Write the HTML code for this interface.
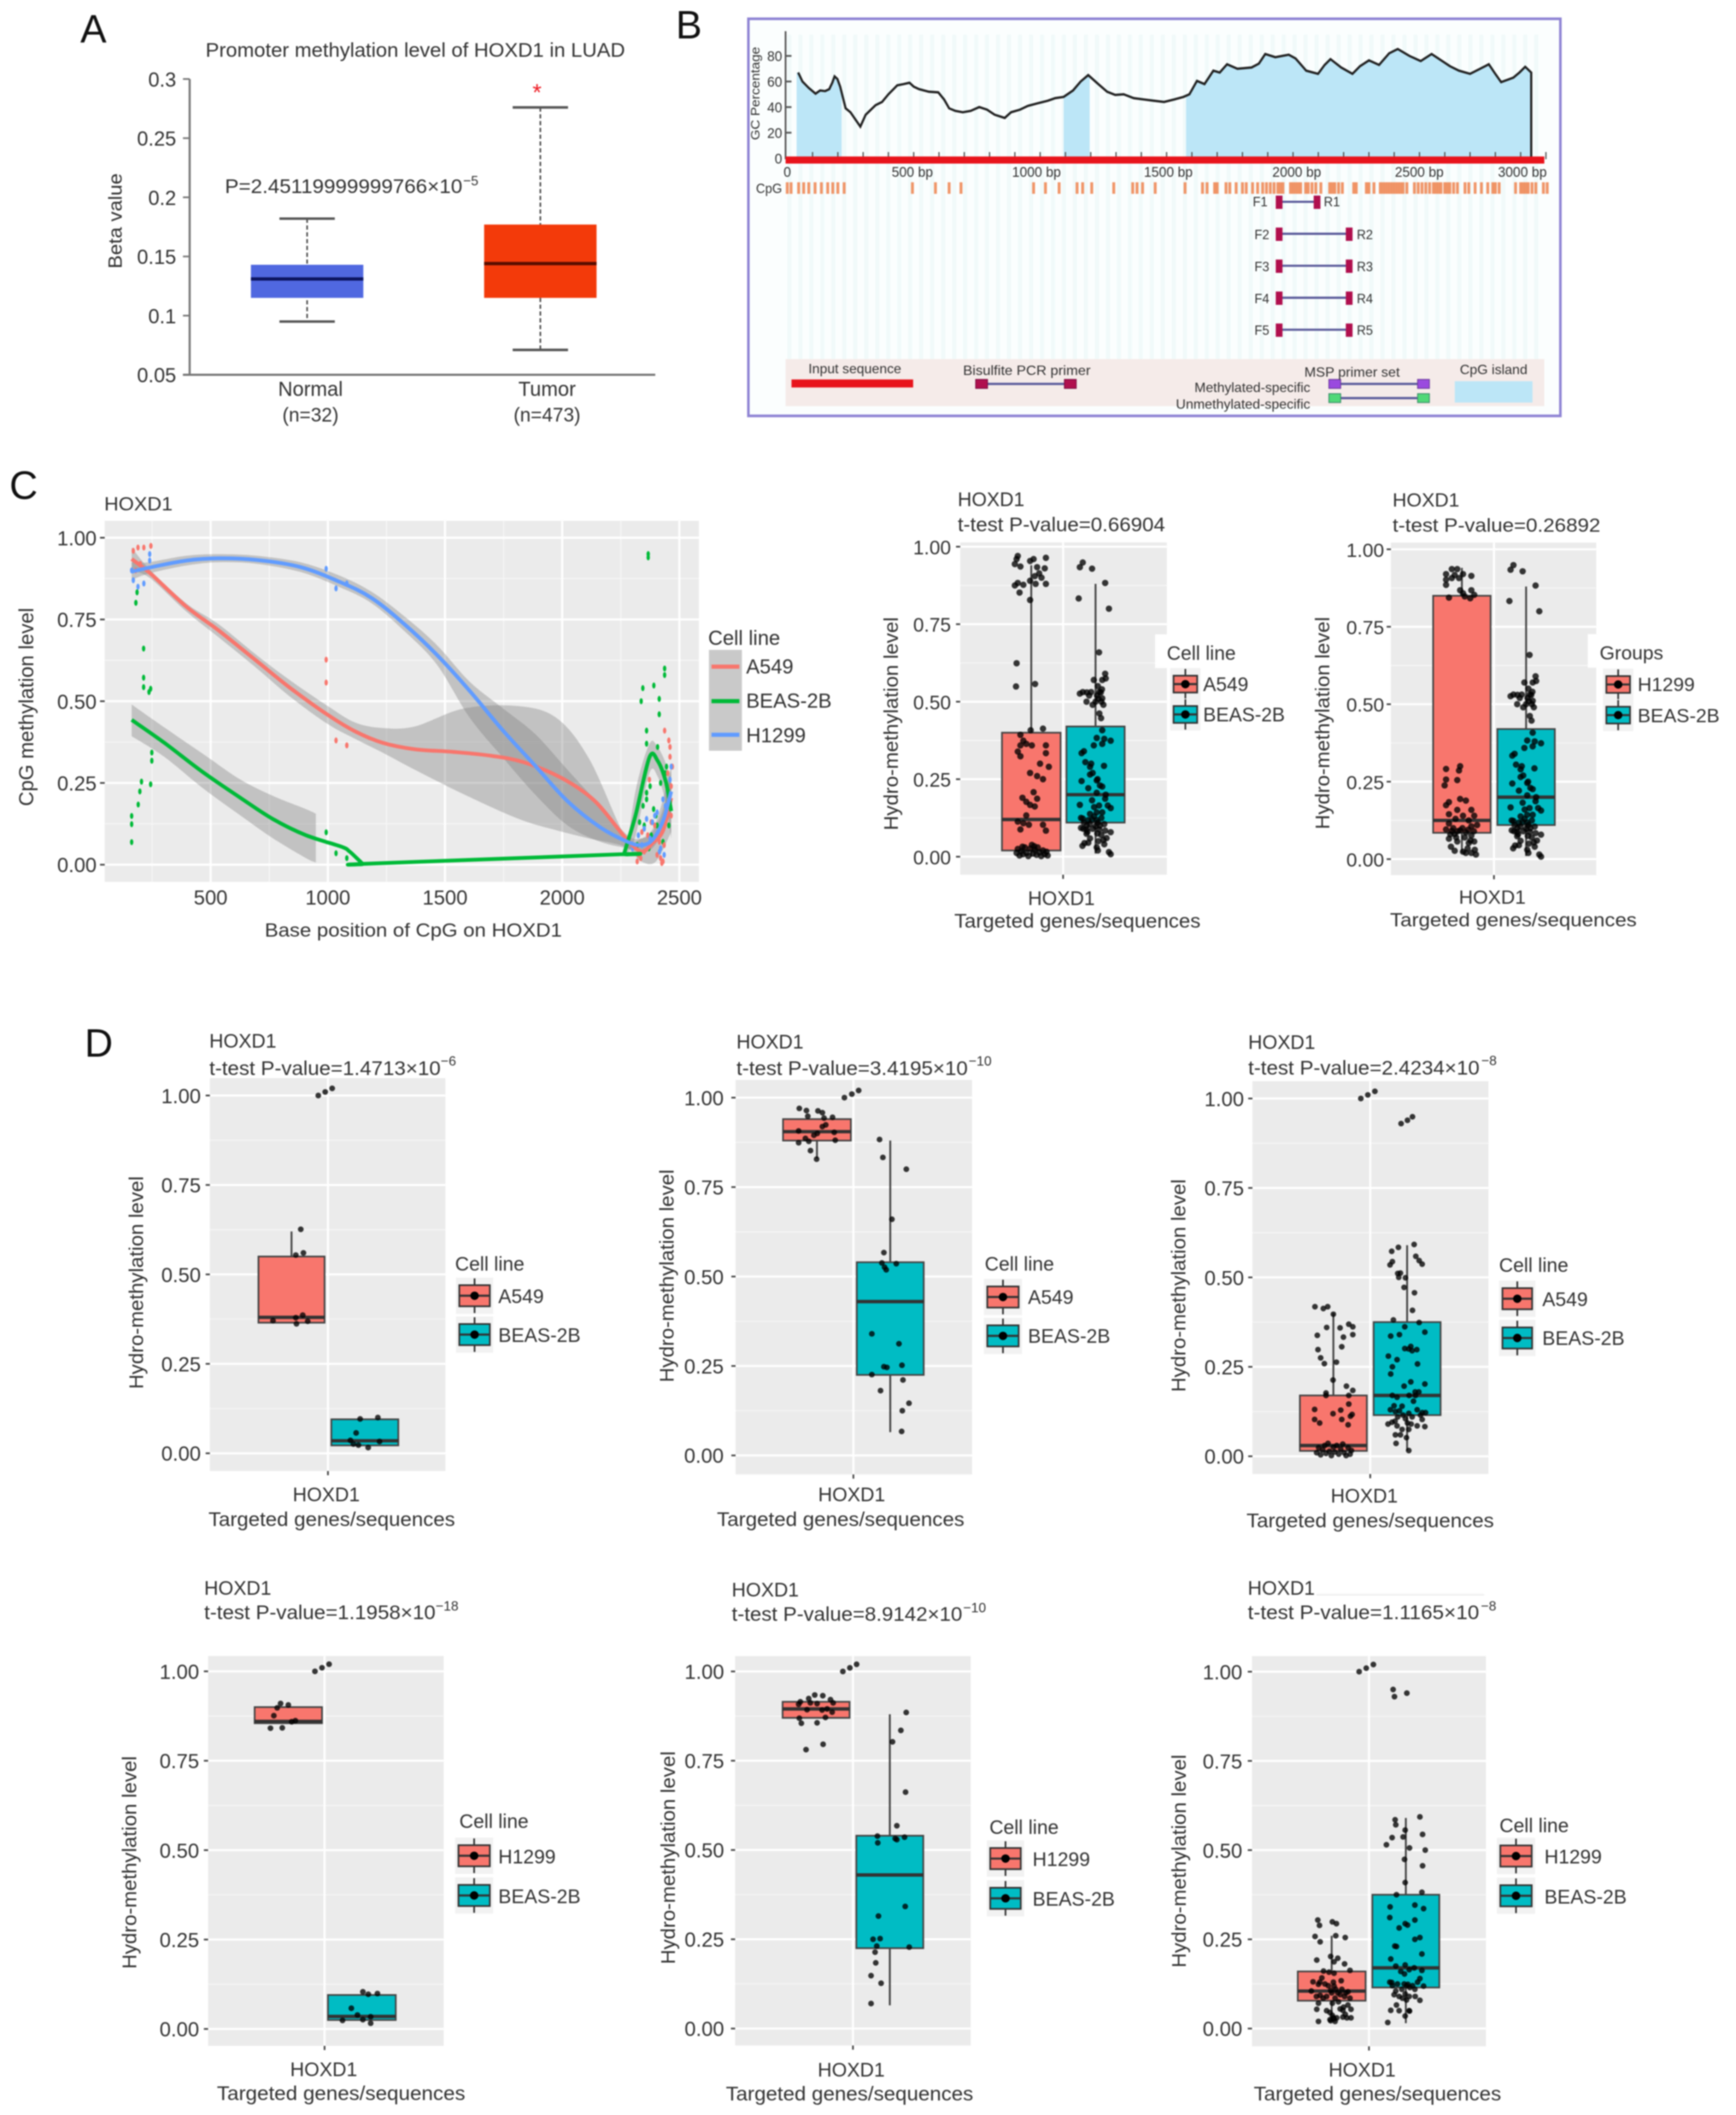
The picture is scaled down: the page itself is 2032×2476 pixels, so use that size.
<!DOCTYPE html>
<html lang="en">
<head>
<meta charset="utf-8">
<title>HOXD1 methylation figure</title>
<style>
html,body{margin:0;padding:0;background:#fff;}
svg{display:block;filter:blur(.9px);}
text{font-family:"Liberation Sans",sans-serif;fill:#333;}
.t23{font-size:23px;}
.t24{font-size:24px;}
.exp{font-size:16px;}
.letter{font-size:46px;fill:#111;}
.b15{font-size:15px;fill:#333;}
.b16{font-size:16px;fill:#333;}
</style>
</head>
<body>
<svg id="figure" xmlns="http://www.w3.org/2000/svg" width="2032" height="2476" viewBox="0 0 2032 2476">
<defs>
<pattern id="stripes" width="13" height="10" patternUnits="userSpaceOnUse"><rect width="13" height="10" fill="#fbfefe"/><rect width="5" height="10" fill="#f1fafa"/></pattern>
</defs>
<rect width="2032" height="2476" fill="#fff"/>

<text class="letter" x="94" y="50">A</text>
<text class="letter" x="791" y="45">B</text>
<text class="letter" x="11" y="584">C</text>
<text class="letter" x="99" y="1237">D</text>

<!-- Panel A -->
<g transform="translate(4,-1.03) scale(.982,.995)">
<text class="t23" x="241" y="68" textLength="500" lengthAdjust="spacingAndGlyphs">Promoter methylation level of HOXD1 in LUAD</text>
<g id="panelA"></g>
<text class="t23" transform="translate(141,261) rotate(-90)" text-anchor="middle" textLength="112" lengthAdjust="spacingAndGlyphs">Beta value</text>
<text class="t23" x="264" y="228" textLength="283" lengthAdjust="spacingAndGlyphs">P=2.45119999999766×10</text>
<text class="exp" x="548" y="219">−5</text>
<text class="t24" x="366" y="467" text-anchor="middle">Normal</text>
<text class="t23" x="366" y="497" text-anchor="middle">(n=32)</text>
<text class="t24" x="648" y="467" text-anchor="middle">Tumor</text>
<text class="t23" x="648" y="497" text-anchor="middle">(n=473)</text>
</g>

<!-- Panel B -->
<g transform="translate(8.65,-.88) scale(.989,1.04)">
<rect x="877" y="22" width="961" height="447" fill="#fbfefe" stroke="#8f84d4" stroke-width="3"/>
<rect x="921" y="40" width="898" height="365" fill="url(#stripes)"/>
<g id="panelB"></g>
<text class="b15" transform="translate(890,106) rotate(-90)" text-anchor="middle" textLength="105" lengthAdjust="spacingAndGlyphs">GC Percentage</text>
<text class="b16" x="923" y="200" text-anchor="middle">0</text>
<text class="b16" x="1071" y="200" text-anchor="middle">500 bp</text>
<text class="b16" x="1218" y="200" text-anchor="middle">1000 bp</text>
<text class="b16" x="1374" y="200" text-anchor="middle">1500 bp</text>
<text class="b16" x="1526" y="200" text-anchor="middle">2000 bp</text>
<text class="b16" x="1671" y="200" text-anchor="middle">2500 bp</text>
<text class="b16" x="1793" y="200" text-anchor="middle">3000 bp</text>
<text class="b15" x="886" y="218">CpG</text>
<text class="b15" x="1474" y="233">F1</text><text class="b15" x="1558" y="233">R1</text>
<text class="b15" x="1476" y="270">F2</text><text class="b15" x="1597" y="270">R2</text>
<text class="b15" x="1476" y="306">F3</text><text class="b15" x="1597" y="306">R3</text>
<text class="b15" x="1476" y="342">F4</text><text class="b15" x="1597" y="342">R4</text>
<text class="b15" x="1476" y="378">F5</text><text class="b15" x="1597" y="378">R5</text>
<text class="b15" x="948" y="421" textLength="110" lengthAdjust="spacingAndGlyphs">Input sequence</text>
<text class="b15" x="1131" y="423" textLength="151" lengthAdjust="spacingAndGlyphs">Bisulfite PCR primer</text>
<text class="b15" x="1535" y="425" textLength="113" lengthAdjust="spacingAndGlyphs">MSP primer set</text>
<text class="b15" x="1405" y="442" textLength="137" lengthAdjust="spacingAndGlyphs">Methylated-specific</text>
<text class="b15" x="1383" y="461" textLength="159" lengthAdjust="spacingAndGlyphs">Unmethylated-specific</text>
<text class="b15" x="1719" y="422" textLength="80" lengthAdjust="spacingAndGlyphs">CpG island</text>
</g>

<!-- Panel C line plot -->
<g transform="translate(1.39,9) scale(.9886,.984)">
<text class="t23" x="122" y="598" textLength="81" lengthAdjust="spacingAndGlyphs">HOXD1</text>
<g id="panelC1"></g>
<text class="t24" transform="translate(38,832) rotate(-90)" text-anchor="middle" textLength="236" lengthAdjust="spacingAndGlyphs">CpG methylation level</text>
<text class="t23" x="312" y="1105" textLength="352" lengthAdjust="spacingAndGlyphs">Base position of CpG on HOXD1</text>
<text class="t24" x="837" y="758">Cell line</text>
<text class="t24" x="882" y="792">A549</text>
<text class="t24" x="882" y="833">BEAS-2B</text>
<text class="t24" x="882" y="874">H1299</text>
</g>

<!-- Panel C box 1 -->
<g transform="translate(13.57,7.33) scale(.987,.987)">
<text class="t23" x="1122" y="593">HOXD1</text>
<text class="t23" x="1122" y="623" textLength="246" lengthAdjust="spacingAndGlyphs">t-test P-value=0.66904</text>
<g id="panelC2"></g>
<rect x="1356" y="745" width="30" height="40" fill="#fff"/>
<text class="t23" transform="translate(1051,851) rotate(-90)" text-anchor="middle" textLength="253" lengthAdjust="spacingAndGlyphs">Hydro-methylation level</text>
<text class="t23" x="1245" y="1066" text-anchor="middle">HOXD1</text>
<text class="t23" x="1118" y="1093" textLength="292" lengthAdjust="spacingAndGlyphs">Targeted genes/sequences</text>
<text class="t23" x="1370" y="775">Cell line</text>
<text class="t23" x="1413" y="812">A549</text>
<text class="t23" x="1413" y="848">BEAS-2B</text>
</g>

<!-- Panel C box 2 -->
<g transform="translate(9.06,10) scale(.989,.983)">
<text class="t23" x="1639" y="593">HOXD1</text>
<text class="t23" x="1639" y="623" textLength="246" lengthAdjust="spacingAndGlyphs">t-test P-value=0.26892</text>
<g id="panelC3"></g>
<rect x="1870" y="745" width="30" height="40" fill="#fff"/>
<text class="t23" transform="translate(1564,851) rotate(-90)" text-anchor="middle" textLength="253" lengthAdjust="spacingAndGlyphs">Hydro-methylation level</text>
<text class="t23" x="1757" y="1066" text-anchor="middle">HOXD1</text>
<text class="t23" x="1636" y="1093" textLength="292" lengthAdjust="spacingAndGlyphs">Targeted genes/sequences</text>
<text class="t23" x="1884" y="775">Groups</text>
<text class="t23" x="1929" y="813">H1299</text>
<text class="t23" x="1929" y="850">BEAS-2B</text>
</g>

<!-- Panel D1 -->
<g transform="translate(-1.02,11.14) scale(.992,.989)">
<text class="t23" x="248" y="1229">HOXD1</text>
<text class="t23" x="248" y="1261" textLength="273" lengthAdjust="spacingAndGlyphs">t-test P-value=1.4713×10</text>
<text class="exp" x="521" y="1250">−6</text>
<g id="panelD1"></g>
<text class="t23" transform="translate(170,1507) rotate(-90)" text-anchor="middle" textLength="252" lengthAdjust="spacingAndGlyphs">Hydro-methylation level</text>
<text class="t23" x="386" y="1766" text-anchor="middle">HOXD1</text>
<text class="t23" x="247" y="1795" textLength="291" lengthAdjust="spacingAndGlyphs">Targeted genes/sequences</text>
<text class="t23" x="538" y="1493">Cell line</text>
<text class="t23" x="589" y="1531">A549</text>
<text class="t23" x="589" y="1577">BEAS-2B</text>
</g>

<!-- Panel D2 -->
<g transform="translate(3.92,11.17) scale(.992,.989)">
<text class="t23" x="865" y="1230">HOXD1</text>
<text class="t23" x="865" y="1261" textLength="273" lengthAdjust="spacingAndGlyphs">t-test P-value=3.4195×10</text>
<text class="exp" x="1139" y="1250">−10</text>
<g id="panelD2"></g>
<text class="t23" transform="translate(791,1499) rotate(-90)" text-anchor="middle" textLength="252" lengthAdjust="spacingAndGlyphs">Hydro-methylation level</text>
<text class="t23" x="1001" y="1766" text-anchor="middle">HOXD1</text>
<text class="t23" x="842" y="1795" textLength="292" lengthAdjust="spacingAndGlyphs">Targeted genes/sequences</text>
<text class="t23" x="1158" y="1493">Cell line</text>
<text class="t23" x="1209" y="1532">A549</text>
<text class="t23" x="1209" y="1578">BEAS-2B</text>
</g>

<!-- Panel D3 -->
<g transform="translate(9.74,12.66) scale(.992,.989)">
<text class="t23" x="1463" y="1229">HOXD1</text>
<text class="t23" x="1463" y="1259" textLength="273" lengthAdjust="spacingAndGlyphs">t-test P-value=2.4234×10</text>
<text class="exp" x="1738" y="1248">−8</text>
<g id="panelD3"></g>
<text class="t23" transform="translate(1389,1509) rotate(-90)" text-anchor="middle" textLength="252" lengthAdjust="spacingAndGlyphs">Hydro-methylation level</text>
<text class="t23" x="1600" y="1766" text-anchor="middle">HOXD1</text>
<text class="t23" x="1461" y="1795" textLength="292" lengthAdjust="spacingAndGlyphs">Targeted genes/sequences</text>
<text class="t23" x="1759" y="1493">Cell line</text>
<text class="t23" x="1810" y="1533">A549</text>
<text class="t23" x="1810" y="1579">BEAS-2B</text>
</g>

<!-- Panel D4 -->
<g transform="translate(-1.03,20.45) scale(.992,.989)">
<text class="t23" x="242" y="1867">HOXD1</text>
<text class="t23" x="242" y="1896" textLength="273" lengthAdjust="spacingAndGlyphs">t-test P-value=1.1958×10</text>
<text class="exp" x="515" y="1886">−18</text>
<g id="panelD4"></g>
<text class="t23" transform="translate(162,2184) rotate(-90)" text-anchor="middle" textLength="252" lengthAdjust="spacingAndGlyphs">Hydro-methylation level</text>
<text class="t23" x="383" y="2437" text-anchor="middle">HOXD1</text>
<text class="t23" x="257" y="2465" textLength="293" lengthAdjust="spacingAndGlyphs">Targeted genes/sequences</text>
<text class="t23" x="543" y="2143">Cell line</text>
<text class="t23" x="589" y="2185">H1299</text>
<text class="t23" x="589" y="2232">BEAS-2B</text>
</g>

<!-- Panel D5 -->
<g transform="translate(4.4,18.6) scale(.992,.99)">
<text class="t23" x="859" y="1869">HOXD1</text>
<text class="t23" x="859" y="1898" textLength="272" lengthAdjust="spacingAndGlyphs">t-test P-value=8.9142×10</text>
<text class="exp" x="1132" y="1888">−10</text>
<g id="panelD5"></g>
<text class="t23" transform="translate(792,2178) rotate(-90)" text-anchor="middle" textLength="252" lengthAdjust="spacingAndGlyphs">Hydro-methylation level</text>
<text class="t23" x="1000" y="2437" text-anchor="middle">HOXD1</text>
<text class="t23" x="852" y="2465" textLength="292" lengthAdjust="spacingAndGlyphs">Targeted genes/sequences</text>
<text class="t23" x="1163" y="2150">Cell line</text>
<text class="t23" x="1214" y="2188">H1299</text>
<text class="t23" x="1214" y="2235">BEAS-2B</text>
</g>

<!-- Panel D6 -->
<g transform="translate(9.24,18.59) scale(.992,.99)">
<rect x="1544" y="1866" width="198" height="2" fill="#f0f0f0"/>
<text class="t23" x="1463" y="1867">HOXD1</text>
<text class="t23" x="1463" y="1896" textLength="273" lengthAdjust="spacingAndGlyphs">t-test P-value=1.1165×10</text>
<text class="exp" x="1738" y="1886">−8</text>
<g id="panelD6"></g>
<text class="t23" transform="translate(1390,2182) rotate(-90)" text-anchor="middle" textLength="252" lengthAdjust="spacingAndGlyphs">Hydro-methylation level</text>
<text class="t23" x="1598" y="2437" text-anchor="middle">HOXD1</text>
<text class="t23" x="1470" y="2465" textLength="292" lengthAdjust="spacingAndGlyphs">Targeted genes/sequences</text>
<text class="t23" x="1760" y="2148">Cell line</text>
<text class="t23" x="1813" y="2185">H1299</text>
<text class="t23" x="1813" y="2232">BEAS-2B</text>
</g>
</svg>

<script>
/* ---------- Panel A data ---------- */
const aTickValues = [0.05, 0.1, 0.15, 0.2, 0.25, 0.3];
const aTickLabels = ['0.05', '0.1', '0.15', '0.2', '0.25', '0.3'];
const aNormalBox = [0.095, 0.115, 0.131, 0.143, 0.182];
const aTumorBox = [0.071, 0.115, 0.144, 0.177, 0.276];

/* ---------- Panel B data ---------- */
const gcTickValues = [0, 20, 40, 60, 80];
const gcTickLabels = ['0', '20', '40', '60', '80'];
const gcBp = [43,60,85,112,130,150,166,178,187,198,209,231,250,289,310,349,375,400,435,460,483,500,521,560,597,620,640,665,694,725,759,790,820,860,885,920,952,990,1030,1060,1093,1130,1160,1190,1230,1265,1297,1330,1370,1410,1448,1490,1530,1567,1590,1620,1650,1685,1710,1739,1780,1836,1865,1890,1930,1983,2010,2052,2099,2125,2148,2190,2235,2265,2300,2340,2380,2414,2460,2505,2548,2590,2620,2656,2700,2740,2774,2800,2823,2871,2895,2918,2942];
const gcPct = [67,60,55,50.5,53,52.5,54,59,64,62,56,39,36,24.7,34,41.5,44,50,57,58,59,56,54,52,51.5,46,39,37,36,37,40,38,34,31.5,36,38,41,43,45,47,48,53,60,65,58,52,49.5,50,47,46,45,44,46,48,50,60.5,58,68.5,67,73.5,70,71,74,81.5,79,81,78,68.5,66,73,77.5,71,66,72,76.5,73,82,85.4,80,76,81.5,76,72,68.5,66,70,73.5,66,59.5,63,67,71.5,67];
const cpgIslands = [[37,215],[1093,1196],[1577,2942]];
const cpgSites = [0,15,45,65,85,110,135,160,180,200,225,495,586,640,687,974,1021,1075,1146,1168,1204,1291,1366,1383,1405,1455,1573,1642,1660,1690,1700,1735,1750,1775,1800,1815,1840,1860,1880,1895,1910,1925,1940,1950,1960,1990,2000,2010,2020,2030,2050,2060,2075,2090,2110,2145,2155,2165,2180,2195,2240,2250,2290,2300,2320,2345,2355,2365,2375,2385,2395,2405,2415,2425,2435,2450,2480,2495,2510,2525,2540,2555,2565,2575,2585,2600,2610,2620,2635,2650,2680,2695,2720,2745,2770,2790,2800,2815,2880,2900,2910,2920,2930,2945,2960,2990,3005];
const primerStarts = [1945, 1945, 1945, 1945, 1945];
const primerEnds = [2095, 2222, 2222, 2222, 2222];

/* ---------- Panel C smooth plot data ---------- */
const c1XTicks = [500, 1000, 1500, 2000, 2500];
const c1XTickLabels = ['500', '1000', '1500', '2000', '2500'];
const a549LineX = [163,244,395,535,698,837,1000,1116,1233,1372,1535,1698,1837,2000,2140,2267,2337,2384,2430,2465];
const a549LineY = [0.935,0.89,0.79,0.716,0.622,0.542,0.458,0.408,0.373,0.353,0.345,0.333,0.313,0.264,0.194,0.085,0.04,0.065,0.104,0.204];
const h1299LineX = [163,233,395,535,698,884,1047,1186,1326,1465,1605,1744,1884,2023,2163,2279,2337,2384,2430,2465];
const h1299LineY = [0.896,0.908,0.93,0.937,0.932,0.91,0.866,0.816,0.736,0.642,0.532,0.413,0.303,0.194,0.114,0.07,0.06,0.075,0.134,0.224];
const beasLineX = [163,302,465,628,767,907,1058,1093,1135,1151,1170,2250,2263,2275,2314,2372,2407,2442,2465];
const beasLineY = [0.443,0.373,0.284,0.204,0.139,0.09,0.055,0.04,0.012,0.002,0.003,0.032,0.033,0.06,0.154,0.328,0.318,0.254,0.164];
const a549BandX = [163,244,395,535,698,837,1000,1116,1233,1372,1581,1814,1977,2116,2267,2337,2400,2465];
const a549BandHi = [0.97,0.90,0.80,0.735,0.64,0.565,0.485,0.435,0.418,0.423,0.478,0.485,0.448,0.323,0.09,0.08,0.13,0.30];
const a549BandLo = [0.90,0.875,0.775,0.695,0.60,0.515,0.43,0.385,0.343,0.29,0.215,0.14,0.105,0.08,0.055,0.01,0.01,0.10];
const h1299BandX = [163,233,395,535,698,884,1047,1186,1326,1465,1605,1744,1884,2023,2163,2279,2337,2384,2430,2465];
const h1299BandHi = [0.925,0.925,0.945,0.95,0.945,0.925,0.885,0.835,0.76,0.672,0.56,0.48,0.40,0.29,0.18,0.09,0.08,0.10,0.17,0.29];
const h1299BandLo = [0.87,0.89,0.915,0.925,0.92,0.895,0.85,0.80,0.715,0.612,0.45,0.33,0.215,0.12,0.07,0.05,0.04,0.05,0.10,0.16];
const beasBandX = [163,302,465,628,767,907,949];
const beasBandHi = [0.49,0.42,0.34,0.26,0.21,0.17,0.156];
const beasBandLo = [0.393,0.33,0.235,0.15,0.08,0.02,0.007];
const beasBumpX = [2275,2314,2372,2407,2442,2465];
const beasBumpHi = [0.04,0.23,0.37,0.36,0.31,0.25];
const beasBumpLo = [0.03,0.09,0.28,0.27,0.19,0.08];
const c1GreenPoints = [[163,.069],[163,.124],[163,.149],[191,.184],[198,.224],[205,.254],[214,.661],[214,.572],[214,.543],[237,.528],[244,.538],[249,.343],[249,.318],[244,.246],[181,.801],[186,.833],[993,.099],[1035,.035],[1081,.02],[2367,.94],[2367,.95],[2337,.5],[2344,.54],[2391,.548],[2437,.58],[2437,.6],[2414,.507],[2414,.46],[2360,.41],[2360,.37],[2407,.36],[2360,.22],[2360,.2],[2453,.165],[2400,.15],[2330,.13],[2370,.05],[2440,.28],[2345,.18],[2350,.12],[2375,.24],[2390,.17],[2405,.12],[2420,.25],[2430,.07],[2445,.3],[2455,.12],[2460,.21],[2320,.06],[2380,.09]];
const c1RedPoints = [[170,.96],[190,.97],[215,.97],[245,.975],[180,.9],[200,.92],[993,.627],[993,.557],[1035,.38],[1081,.365],[2437,.41],[2460,.36],[2460,.33],[2372,.26],[2465,.24],[2320,.01],[2325,.03],[2420,.02],[2425,.005],[2340,.1],[2380,.13],[2415,.07],[2335,.02],[2350,.04],[2365,.09],[2395,.12],[2405,.03],[2430,.01],[2445,.18],[2450,.28],[2455,.38],[2465,.15],[2435,.06],[2470,.3]];
const c1BluePoints = [[163,.9],[170,.87],[190,.85],[215,.86],[240,.93],[240,.95],[993,.905],[1035,.845],[1081,.86],[2430,.2],[2360,.14],[2385,.13],[2410,.1],[2465,.3],[2420,.05],[2340,.06],[2300,.05],[2325,.09],[2350,.11],[2375,.08],[2395,.15],[2405,.16],[2425,.12],[2440,.18],[2450,.22],[2460,.26],[2435,.03],[2415,.04]];

/* ---------- Shared box-plot axis labels ---------- */
const hmTickValues = [0, 0.25, 0.5, 0.75, 1];
const hmTickLabels = ['0.00', '0.25', '0.50', '0.75', '1.00'];
const hmMinorValues = [0.125, 0.375, 0.625, 0.875];

/* ---------- Box stats: low, q1, median, q3, high ---------- */
const c2A549Box = [0, 0.02, 0.12, 0.40, 0.94];
const c2BeasBox = [0.01, 0.11, 0.20, 0.42, 0.88];
const c3H1299Box = [0.02, 0.085, 0.125, 0.85, 0.94];
const d1A549Box = [0.365, 0.365, 0.38, 0.55, 0.62];
const d1BeasBox = [0.022, 0.022, 0.035, 0.095, 0.095];
const d2A549Box = [0.83, 0.88, 0.905, 0.94, 0.94];
const d2BeasBox = [0.065, 0.225, 0.43, 0.54, 0.88];
const d3A549Box = [0.015, 0.015, 0.03, 0.17, 0.40];
const d3BeasBox = [0.015, 0.115, 0.17, 0.375, 0.59];
const d4H1299Box = [0.855, 0.855, 0.86, 0.90, 0.90];
const d4BeasBox = [0.025, 0.025, 0.035, 0.095, 0.095];
const d5H1299Box = [0.87, 0.87, 0.895, 0.915, 0.915];
const d5BeasBox = [0.065, 0.225, 0.43, 0.54, 0.88];
const d6H1299Box = [0.02, 0.078, 0.105, 0.16, 0.26];
const d6BeasBox = [0.015, 0.115, 0.17, 0.375, 0.59];

/* ---------- Jittered points: [jitter in box half-widths, value] ---------- */
const c2A549Points = [[-.46,.97],[-.5,.96],[.08,.96],[-.04,.954],[.5,.964],[-.56,.944],[-.37,.936],[.2,.934],[.46,.93],[.27,.914],[.12,.905],[.35,.9],[-.04,.89],[-.46,.883],[-.56,.875],[-.27,.877],[.15,.88],[.5,.88],[-.4,.852],[-.04,.828],[-.5,.624],[-.52,.549],[.13,.557],[-.02,.408],[.4,.413],[-.37,.393],[-.27,.374],[-.37,.359],[.02,.359],[-.17,.364],[.5,.359],[-.46,.339],[.5,.334],[-.37,.324],[.3,.3],[.6,.29],[-.04,.27],[.2,.26],[.4,.25],[.08,.208],[-.3,.19],[.2,.187],[-.17,.177],[.12,.162],[-.04,.167],[-.17,.133],[-.46,.113],[-.27,.108],[-.08,.103],[.4,.103],[-.37,.088],[.5,.084],[-.5,.012],[-.46,.025],[-.4,.004],[-.34,.018],[-.28,.008],[-.22,.03],[-.16,.012],[-.1,.002],[-.04,.026],[.02,.038],[.06,.01],[.12,.022],[.18,.006],[.22,.03],[.28,.014],[.34,.002],[.4,.02],[.46,.008],[.52,.016],[.56,.004],[-.3,.032],[.1,.034]];
const beasSharedPoints = [[-.44,.949],[-.54,.934],[-.12,.929],[.33,.883],[-.58,.833],[.46,.8],[.12,.659],[.33,.59],[.23,.57],[-.06,.57],[.08,.55],[-.44,.531],[-.15,.531],[.13,.531],[-.54,.526],[.23,.511],[-.31,.5],[0,.5],[.13,.462],[.19,.447],[.23,.408],[.04,.383],[.52,.374],[-.06,.359],[.23,.364],[-.48,.334],[-.35,.305],[-.19,.29],[.29,.293],[-.19,.265],[-.48,.244],[.04,.246],[.23,.226],[-.25,.221],[.04,.206],[.33,.187],[-.54,.167],[-.12,.182],[.52,.157],[.04,.143],[-.19,.138],[.23,.143],[-.44,.123],[-.25,.118],[.04,.118],[-.5,.093],[-.31,.088],[0,.098],[.13,.088],[.52,.079],[.33,.084],[-.19,.059],[-.38,.044],[.27,.054],[.04,.03],[.08,.02],[.46,.015],[.52,.008],[-.31,.074],[-.5,.125],[-.4,.11],[-.3,.1],[-.2,.105],[-.12,.12],[-.05,.13],[.08,.11],[.15,.1],[.2,.125],[.3,.105],[-.42,.09],[-.28,.08],[-.1,.09],[.06,.075],[.2,.07],[.38,.06],[.3,.04],[-.25,.045],[.1,.05],[-.45,.035],[.42,.165],[.35,.2],[.12,.165],[-.05,.16],[.15,.23],[.07,.25],[-.1,.27],[.3,.38],[-.4,.34],[-.15,.3],[.22,.54],[.05,.52],[-.3,.53],[-.22,.52],[.1,.51],[.18,.53],[.27,.49],[-.1,.49],[.2,.5],[.35,.575]];
const c3H1299Points = [[-.35,.936],[-.16,.936],[-.55,.92],[-.25,.917],[.04,.92],[.33,.914],[-.55,.902],[-.35,.907],[-.1,.907],[-.55,.885],[-.06,.868],[.33,.868],[.04,.858],[.43,.853],[-.45,.844],[.1,.848],[.29,.842],[-.06,.3],[-.55,.291],[-.1,.286],[-.55,.257],[-.16,.255],[-.6,.238],[-.06,.194],[.14,.189],[-.45,.184],[-.55,.174],[-.16,.159],[.33,.159],[-.45,.145],[.04,.14],[.43,.14],[-.22,.13],[.24,.125],[-.45,.115],[.53,.11],[.33,.106],[-.55,.096],[-.35,.091],[-.06,.093],[.14,.086],[-.25,.081],[.33,.076],[-.45,.066],[-.16,.057],[.24,.052],[.43,.057],[-.25,.027],[.04,.024],[.33,.02],[.49,.015],[.14,.02],[-.3,.1],[-.15,.09],[.02,.1],[.22,.095],[.42,.09],[-.4,.08],[-.2,.07],[.1,.07],[.3,.06],[-.38,.04],[.2,.035],[.45,.03]];
const d1A549Points = [[.81,1],[1.02,1.01],[1.23,1.02],[.28,.626],[.36,.56],[.13,.554],[-.56,.371],[.13,.379],[.34,.386],[.49,.369],[.15,.362]];
const d1BeasPoints = [[-.14,.096],[.39,.1],[-.26,.057],[-.43,.036],[-.34,.026],[-.19,.023],[.1,.016],[.44,.033]];
const d2A549Points = [[.81,1],[1.03,1.01],[1.23,1.02],[-.52,.97],[-.31,.964],[-.27,.948],[.03,.963],[.16,.958],[.46,.945],[.21,.943],[.26,.924],[.16,.919],[-.54,.907],[.01,.9],[.51,.903],[-.34,.886],[-.24,.878],[-.54,.874],[.54,.881],[-.19,.852],[-.01,.828],[-.09,.895]];
const d2BeasPoints = [[-.32,.883],[-.22,.833],[.48,.8],[.05,.66],[-.19,.567],[-.25,.538],[.18,.536],[-.17,.526],[-.12,.519],[-.55,.34],[.26,.312],[-.19,.248],[-.1,.246],[.35,.252],[-.55,.226],[.38,.211],[-.29,.181],[.56,.146],[.36,.125],[.34,.067]];
const d3A549Points = [[.82,1],[1.03,1.01],[1.24,1.02],[-.55,.418],[-.3,.413],[-.17,.418],[0,.397],[-.2,.36],[.2,.359],[.46,.369],[.58,.362],[-.48,.338],[.3,.333],[.58,.34],[.25,.306],[-.46,.298],[-.38,.275],[-.27,.259],[.09,.263],[-.01,.213],[.39,.196],[.58,.184],[-.22,.177],[-.22,.17],[.46,.17],[.46,.146],[-.56,.131],[.22,.129],[-.01,.119],[.56,.117],[-.56,.103],[-.41,.093],[.25,.103],[.44,.088],[.51,.112],[-.5,.01],[-.44,.024],[-.38,.004],[-.32,.018],[-.26,.03],[-.22,.008],[-.16,.036],[-.12,.014],[-.06,.002],[0,.026],[.04,.012],[.1,.03],[.16,.006],[.22,.02],[.28,.034],[.32,.01],[.38,.002],[.44,.024],[.5,.006],[.54,.016]];
const d3BeasPoints = [[-.18,.93],[.01,.939],[.16,.949],[.21,.592],[-.26,.584],[-.46,.573],[.26,.559],[.36,.547],[.45,.537],[-.44,.544],[-.51,.535],[-.28,.511],[-.2,.512],[-.05,.499],[-.09,.472],[.22,.457],[.16,.408],[-.41,.381],[.36,.374],[-.07,.362],[.53,.347],[-.49,.336],[-.23,.34],[-.07,.301],[.11,.307],[.29,.298],[-.56,.28],[.31,.258],[-.44,.25],[-.49,.23],[.11,.208],[-.09,.196],[.53,.202],[.24,.18],[-.44,.17],[-.39,.141],[.19,.154],[-.23,.127],[.45,.122],[-.12,.115],[.55,.122],[-.57,.09],[-.36,.098],[.01,.093],[.45,.103],[.53,.083],[-.35,.06],[-.02,.052],[-.33,.036],[.05,.016],[-.5,.13],[-.35,.125],[-.28,.11],[-.15,.14],[-.05,.105],[.05,.12],[.15,.11],[.3,.13],[.4,.115],[-.45,.095],[-.3,.085],[-.15,.075],[.05,.075],[.12,.09],[.3,.085],[-.2,.06],[.06,.17],[.25,.17],[.35,.18],[-.3,.165],[.05,.3],[.15,.295],[-.3,.27],[-.25,.5]];
const d4H1299Points = [[.79,1],[1,1.01],[1.21,1.02],[-.23,.91],[0,.906],[-.33,.898],[-.43,.876],[-.53,.841],[-.18,.842],[.1,.859],[.21,.862]];
const d4BeasPoints = [[.03,.104],[.19,.097],[.46,.099],[-.31,.058],[-.13,.039],[.26,.034],[-.57,.024],[.03,.026],[.26,.016]];
const d5H1299Points = [[.8,1],[1.01,1.01],[1.21,1.02],[-.04,.934],[.2,.932],[-.22,.924],[.43,.921],[-.47,.915],[-.17,.912],[.03,.91],[.51,.912],[-.27,.893],[-.52,.908],[.18,.892],[.33,.895],[.48,.886],[-.5,.869],[.28,.871],[-.44,.855],[.03,.856],[.21,.796],[-.3,.781]];
const d5BeasPoints = [[.49,.885],[.33,.835],[.08,.803],[.47,.662],[.21,.568],[-.37,.539],[-.36,.52],[.16,.532],[.21,.529],[.44,.536],[-.34,.315],[.46,.342],[-.5,.25],[-.29,.252],[-.39,.231],[.58,.228],[-.44,.214],[-.42,.184],[-.56,.148],[-.26,.127],[-.56,.07]];
const d6H1299Points = [[.81,1],[1.02,1.01],[1.23,1.02],[-.41,.304],[-.36,.289],[.02,.299],[.14,.294],[.12,.26],[-.49,.258],[.4,.255],[-.34,.243],[-.44,.192],[-.03,.202],[.18,.197],[.07,.187],[.38,.181],[.54,.163],[-.24,.161],[-.08,.158],[.07,.155],[-.29,.142],[-.55,.131],[-.39,.124],[.28,.134],[.07,.119],[-.6,.105],[-.03,.107],[.18,.1],[.48,.103],[-.34,.093],[.54,.085],[-.39,.071],[.02,.071],[.48,.066],[-.44,.054],[.33,.051],[.57,.054],[.33,.032],[.57,.03],[-.39,.02],[-.03,.022],[.07,.027],[.02,.037],[-.35,.13],[-.2,.125],[-.1,.12],[.05,.13],[.12,.11],[.25,.095],[.3,.11],[.38,.09],[.42,.1],[-.45,.09],[-.25,.085],[-.15,.09],[0,.1],[.1,.085],[.2,.075],[.35,.06],[.25,.055],[-.15,.05],[-.05,.045],[.05,.03],[.1,.02],[.15,.03],[.4,.04],[.45,.03],[-.05,.025]];
const d6BeasPoints = [[-.38,.95],[-.34,.93],[.03,.94],[.42,.593],[-.32,.585],[-.3,.571],[-.02,.556],[.5,.544],[-.08,.537],[-.41,.535],[-.58,.515],[.11,.506],[.58,.5],[-.04,.474],[.5,.456],[-.02,.409],[.48,.382],[-.28,.375],[-.47,.341],[.27,.346],[.53,.336],[-.48,.311],[.27,.304],[-.02,.294],[-.2,.282],[.42,.255],[-.33,.231],[.48,.209],[-.45,.195],[-.02,.178],[.48,.163],[-.04,.153],[-.42,.129],[.06,.124],[.53,.119],[-.3,.105],[.27,.11],[-.02,.097],[.42,.079],[-.28,.066],[-.45,.051],[.11,.049],[-.02,.035],[-.54,.017],[-.48,.13],[-.4,.12],[-.25,.125],[-.12,.11],[-.05,.125],[.02,.12],[.12,.115],[.2,.12],[.35,.13],[.42,.14],[-.35,.095],[-.2,.09],[-.1,.085],[.02,.08],[.1,.09],[.28,.09],[-.15,.16],[.1,.165],[.25,.17],[-.3,.175],[-.28,.23],[.05,.29],[.27,.25],[-.2,.05],[.1,.05]];

/* ---------- helpers ---------- */
const SVGNS = 'http://www.w3.org/2000/svg';
const RED = '#f8766d';
const TEAL = '#00bcc4';
function mk(tag, parent, attrs) {
  const el = document.createElementNS(SVGNS, tag);
  for (const k in attrs) el.setAttribute(k, attrs[k]);
  parent.appendChild(el);
  return el;
}
function smoothPath(px, py, move) {
  let d = (move ? 'M' : 'L') + px[0].toFixed(1) + ' ' + py[0].toFixed(1);
  for (let i = 0; i < px.length - 1; i++) {
    const a = Math.max(i - 1, 0), b = Math.min(i + 2, px.length - 1);
    const c1x = px[i] + (px[i + 1] - px[a]) / 6, c1y = py[i] + (py[i + 1] - py[a]) / 6;
    const c2x = px[i + 1] - (px[b] - px[i]) / 6, c2y = py[i + 1] - (py[b] - py[i]) / 6;
    d += 'C' + c1x.toFixed(1) + ' ' + c1y.toFixed(1) + ' ' + c2x.toFixed(1) + ' ' + c2y.toFixed(1) + ' ' + px[i + 1].toFixed(1) + ' ' + py[i + 1].toFixed(1);
  }
  return d;
}

/* ---------- Panel A ---------- */
(function () {
  const root = document.getElementById('panelA');
  const y = v => 442 + (v - 0.05) * (94 - 442) / 0.25;
  const axisV = mk('line', root, {x1: 222, x2: 222, y1: y(0.3), y2: y(0.05), stroke: '#777', 'stroke-width': 2.5});
  
  
  const axisH = mk('line', root, {x1: 214, x2: 777, y1: 442, y2: 442, stroke: '#777', 'stroke-width': 2.5});
  
  
  aTickValues.forEach((v, i) => {
    const tick = mk('line', root, {x1: 214, x2: 222, y1: y(v), y2: y(v), stroke: '#777', 'stroke-width': 2});
    
    
    const label = mk('text', root, {x: 206, y: y(v) + 9, 'text-anchor': 'end', 'font-size': 24});
    label.textContent = aTickLabels[i];
    
    
  });
  function box(stats, cx, halfW, capHalf, fill, medColor) {
    const g = mk('g', root, {});
    
    
    const w = mk('line', g, {x1: cx, x2: cx, y1: y(stats[4]), y2: y(stats[0]), stroke: '#555', 'stroke-width': 2, 'stroke-dasharray': '5 3'});
    
    
    [stats[0], stats[4]].forEach(v => {
      const cap = mk('line', g, {x1: cx - capHalf, x2: cx + capHalf, y1: y(v), y2: y(v), stroke: '#555', 'stroke-width': 3});
      
      
    });
    const r = mk('rect', g, {x: cx - halfW, width: 2 * halfW, y: y(stats[3]), height: y(stats[1]) - y(stats[3]), fill: fill});
    
    
    const m = mk('line', g, {x1: cx - halfW, x2: cx + halfW, y1: y(stats[2]), y2: y(stats[2]), stroke: medColor, 'stroke-width': 4});
    
    
  }
  box(aNormalBox, 362, 67, 33, '#5068e0', '#0c1560');
  box(aTumorBox, 640, 67, 33, '#f33a0a', '#5a0e00');
  const star = mk('text', root, {x: 636, y: 119, 'text-anchor': 'middle', 'font-size': 28, style: 'fill:#ee1c25'});
  star.textContent = '*';
  
  
})();

/* ---------- Panel B ---------- */
(function () {
  const root = document.getElementById('panelB');
  const x = bp => 923 + bp * 0.2993;
  const y = pct => 179 - pct * 1.44;
  function gcAt(bp) {
    if (bp <= gcBp[0]) return gcPct[0];
    for (let i = 1; i < gcBp.length; i++) {
      if (bp <= gcBp[i]) return gcPct[i - 1] + (gcPct[i] - gcPct[i - 1]) * (bp - gcBp[i - 1]) / (gcBp[i] - gcBp[i - 1]);
    }
    return gcPct[gcPct.length - 1];
  }
  cpgIslands.forEach(range => {
    let d = 'M' + x(range[0]) + ' ' + y(0) + 'L' + x(range[0]) + ' ' + y(gcAt(range[0]));
    gcBp.forEach((bp, i) => {
      if (bp > range[0] && bp < range[1]) d += 'L' + x(bp).toFixed(1) + ' ' + y(gcPct[i]).toFixed(1);
    });
    d += 'L' + x(range[1]) + ' ' + y(gcAt(range[1])) + 'L' + x(range[1]) + ' ' + y(0) + 'Z';
    const isl = mk('path', root, {d: d, fill: '#bce6f7'});
    
    
  });
  let gcD = '';
  gcBp.forEach((bp, i) => { gcD += (i ? 'L' : 'M') + x(bp).toFixed(1) + ' ' + y(gcPct[i]).toFixed(1); });
  gcD += 'L' + x(gcBp[gcBp.length - 1]).toFixed(1) + ' ' + y(0);
  const gcLine = mk('path', root, {d: gcD, fill: 'none', stroke: '#222', 'stroke-width': 2.6});
  
  
  const yAxis = mk('line', root, {x1: 921, x2: 921, y1: 36, y2: 180, stroke: '#555', 'stroke-width': 2});
  
  
  gcTickValues.forEach((v, i) => {
    const t = mk('line', root, {x1: 921, x2: 928, y1: y(v), y2: y(v), stroke: '#555', 'stroke-width': 2});
    
    
    const l = mk('text', root, {x: 917, y: y(v) + 6, 'text-anchor': 'end', 'font-size': 16});
    l.textContent = gcTickLabels[i];
    
    
  });
  for (let bp = 100; bp <= 3000; bp += 100) {
    const t = mk('line', root, {x1: x(bp), x2: x(bp), y1: 172, y2: 180, stroke: '#555', 'stroke-width': 1.5});
    
    
  }
  const bar = mk('rect', root, {x: 921, y: 177, width: 898, height: 8, fill: '#e8141c'});
  
  
  cpgSites.forEach(bp => {
    const s = mk('rect', root, {x: x(bp) - 1.7, y: 206, width: 3.4, height: 13, fill: '#ee8a58', opacity: .9});
    
    
  });
  function primer(x0, x1, cy, lineColor) {
    const ln = mk('line', root, {x1: x0, x2: x1, y1: cy, y2: cy, stroke: lineColor, 'stroke-width': 2.5});
    
    
    return ln;
  }
  const rowYs = [228, 264, 300, 336, 372];
  primerStarts.forEach((bp, i) => {
    primer(x(bp), x(primerEnds[i]), rowYs[i], '#5a5a9a');
    const f = mk('rect', root, {x: x(bp) - 4, y: rowYs[i] - 7, width: 8, height: 15, fill: '#b0104e'});
    
    
    const r = mk('rect', root, {x: x(primerEnds[i]) - 4, y: rowYs[i] - 7, width: 8, height: 15, fill: '#b0104e'});
    
    
  });
  const band = mk('rect', root, {x: 921, y: 405, width: 898, height: 53, fill: '#f5ebe9'});
  
  
  const inp = mk('rect', root, {x: 928, y: 428, width: 144, height: 9, fill: '#e8141c'});
  
  
  function legendPrimer(x0, x1, cy, fill, border) {
    primer(x0, x1, cy, '#5a5a9a');
    [x0, x1].forEach(px => {
      const m = mk('rect', root, {x: px - 7, y: cy - 5, width: 14, height: 10, fill: fill, stroke: border, 'stroke-width': 1});
      
      
    });
  }
  legendPrimer(1153, 1258, 433, '#b0104e', '#7a0a40');
  legendPrimer(1571, 1676, 433, '#9a4adf', '#6a3a9a');
  legendPrimer(1571, 1676, 449, '#50d878', '#3a8a6a');
  const sw = mk('rect', root, {x: 1713, y: 430, width: 92, height: 24, fill: '#bce6f7'});
  
  
})();

/* ---------- Panel C smooth plot ---------- */
(function () {
  const root = document.getElementById('panelC1');
  const x = v => 248 + (v - 500) * 0.2775;
  const y = v => 1019.6 - v * 389;
  const bg = mk('rect', root, {x: 122.6, y: 610.5, width: 703.4, height: 429.5, fill: '#ebebeb'});
  
  
  hmMinorValues.forEach(v => {
    const g = mk('line', root, {x1: 122.6, x2: 826, y1: y(v), y2: y(v), stroke: '#f6f6f6', 'stroke-width': 1.3});
    
    
  });
  [250, 750, 1250, 1750, 2250].forEach(v => {
    const g = mk('line', root, {x1: x(v), x2: x(v), y1: 610.5, y2: 1040, stroke: '#f6f6f6', 'stroke-width': 1.3});
    
    
  });
  hmTickValues.forEach((v, i) => {
    const g = mk('line', root, {x1: 122.6, x2: 826, y1: y(v), y2: y(v), stroke: '#fff', 'stroke-width': 2.5});
    
    
    const t = mk('line', root, {x1: 117, x2: 122.6, y1: y(v), y2: y(v), stroke: '#444', 'stroke-width': 2});
    
    
    const l = mk('text', root, {x: 113, y: y(v) + 9, 'text-anchor': 'end', 'font-size': 24});
    l.textContent = hmTickLabels[i];
    
    
  });
  c1XTicks.forEach((v, i) => {
    const g = mk('line', root, {x1: x(v), x2: x(v), y1: 610.5, y2: 1040, stroke: '#fff', 'stroke-width': 2.5});
    
    
    const l = mk('text', root, {x: x(v), y: 1067, 'text-anchor': 'middle', 'font-size': 24});
    l.textContent = c1XTickLabels[i];
    
    
  });
  function band(bx, hi, lo) {
    const topX = bx.map(x), topY = hi.map(y);
    const botX = bx.map(x).reverse(), botY = lo.map(y).reverse();
    const p = mk('path', root, {d: smoothPath(topX, topY, true) + smoothPath(botX, botY, false) + 'Z', fill: 'rgba(130,130,130,.38)'});
    
    
  }
  band(a549BandX, a549BandHi, a549BandLo);
  band(h1299BandX, h1299BandHi, h1299BandLo);
  band(beasBandX, beasBandHi, beasBandLo);
  band(beasBumpX, beasBumpHi, beasBumpLo);
  function scatter(points, color) {
    points.forEach(pt => {
      const e = mk('ellipse', root, {cx: x(pt[0]), cy: y(pt[1]), rx: 2, ry: 3.6, fill: color});
      
      
    });
  }
  scatter(c1GreenPoints, '#00ba38');
  scatter(c1RedPoints, '#f8766d');
  scatter(c1BluePoints, '#619cff');
  function line(lx, ly, color) {
    const p = mk('path', root, {d: smoothPath(lx.map(x), ly.map(y), true), fill: 'none', stroke: color, 'stroke-width': 4.5});
    
    
  }
  line(a549LineX, a549LineY, '#f8766d');
  line(beasLineX, beasLineY, '#00ba38');
  line(h1299LineX, h1299LineY, '#619cff');
  const keyBg = mk('rect', root, {x: 838, y: 764, width: 39, height: 120, fill: '#c9c9c9'});
  
  
  const keyY = [784, 825, 865];
  const keyC = ['#f8766d', '#00ba38', '#619cff'];
  keyY.forEach((ky, i) => {
    const k = mk('line', root, {x1: 841, x2: 874, y1: ky, y2: ky, stroke: keyC[i], 'stroke-width': 5});
    
    
  });
})();

/* ---------- Box-plot panels ---------- */
function legendKey(root, x0, x1, cy, h, fill) {
  const cx = (x0 + x1) / 2;
  const cell = mk('rect', root, {x: x0 - 4, y: cy - h / 2 - 9, width: x1 - x0 + 8, height: h + 18, fill: '#f2f2f2'});
  
  
  const w = mk('line', root, {x1: cx, x2: cx, y1: cy - h / 2 - 8, y2: cy + h / 2 + 8, stroke: '#333', 'stroke-width': 2});
  
  
  const r = mk('rect', root, {x: x0, y: cy - h / 2, width: x1 - x0, height: h, fill: fill, stroke: '#333', 'stroke-width': 2});
  
  
  const m = mk('line', root, {x1: x0, x2: x1, y1: cy, y2: cy, stroke: '#333', 'stroke-width': 2.5});
  
  
  const d = mk('circle', root, {cx: cx, cy: cy, r: 5, fill: '#000'});
  
  
}
function drawBoxPanel(id, g, series) {
  const root = document.getElementById(id);
  const y = v => g.y0 + (g.y1 - g.y0) * v;
  const bg = mk('rect', root, {x: g.left, y: g.top, width: g.right - g.left, height: g.bottom - g.top, fill: '#ebebeb'});
  
  
  hmMinorValues.forEach(v => {
    const gl = mk('line', root, {x1: g.left, x2: g.right, y1: y(v), y2: y(v), stroke: '#f6f6f6', 'stroke-width': 1.3});
    
    
  });
  hmTickValues.forEach((v, i) => {
    const gl = mk('line', root, {x1: g.left, x2: g.right, y1: y(v), y2: y(v), stroke: '#fff', 'stroke-width': 2.5});
    
    
    const t = mk('line', root, {x1: g.left - 5, x2: g.left, y1: y(v), y2: y(v), stroke: '#444', 'stroke-width': 2});
    
    
    const l = mk('text', root, {x: g.labelX, y: y(v) + 9, 'text-anchor': 'end', 'font-size': g.tickSize || 24});
    l.textContent = hmTickLabels[i];
    
    
  });
  const vg = mk('line', root, {x1: g.cx, x2: g.cx, y1: g.top, y2: g.bottom, stroke: '#fff', 'stroke-width': 2.5});
  
  
  const xt = mk('line', root, {x1: g.cx, x2: g.cx, y1: g.bottom, y2: g.bottom + 5, stroke: '#444', 'stroke-width': 2});
  
  
  const fills = [RED, TEAL];
  series.forEach((s, i) => {
    const x0 = g.boxes[i][0], x1 = g.boxes[i][1];
    const cx = (x0 + x1) / 2, hw = (x1 - x0) / 2;
    const st = s.stats;
    const w1 = mk('line', root, {x1: cx, x2: cx, y1: y(st[3]), y2: y(st[4]), stroke: '#444', 'stroke-width': 2.2});
    
    
    const w2 = mk('line', root, {x1: cx, x2: cx, y1: y(st[1]), y2: y(st[0]), stroke: '#444', 'stroke-width': 2.2});
    
    
    const r = mk('rect', root, {x: x0, y: y(st[3]), width: x1 - x0, height: y(st[1]) - y(st[3]), fill: fills[i], stroke: '#444', 'stroke-width': 2});
    
    
    const m = mk('line', root, {x1: x0, x2: x1, y1: y(st[2]), y2: y(st[2]), stroke: '#333', 'stroke-width': 4});
    
    
    s.points.forEach(pt => {
      const c = mk('circle', root, {cx: cx + pt[0] * hw, cy: y(pt[1]), r: g.pointR || 3.4, fill: '#000', 'fill-opacity': .78});
      
      
    });
  });
  g.keys.forEach((k, i) => legendKey(root, g.keyX[0], g.keyX[1], k, g.keyH, fills[i]));
}

drawBoxPanel('panelC2', {left: 1125, right: 1370, top: 636, bottom: 1030, y1: 641, y0: 1008.7, cx: 1247, boxes: [[1174.5, 1244], [1251, 1320]], labelX: 1114, tickSize: 23, pointR: 3.8, keyX: [1378, 1406], keyH: 20, keys: [804, 840]},
  [{stats: c2A549Box, points: c2A549Points}, {stats: c2BeasBox, points: beasSharedPoints}]);
drawBoxPanel('panelC3', {left: 1637, right: 1880, top: 636, bottom: 1032, y1: 644, y0: 1013, cx: 1759, boxes: [[1687, 1755], [1763, 1831]], labelX: 1629, tickSize: 23, pointR: 3.8, keyX: [1892, 1920], keyH: 20, keys: [805, 841.5]},
  [{stats: c3H1299Box, points: c3H1299Points}, {stats: c2BeasBox, points: beasSharedPoints}]);
drawBoxPanel('panelD1', {left: 248.7, right: 526.6, top: 1265, bottom: 1730, y1: 1285.5, y0: 1709, cx: 388, boxes: [[306, 384], [392, 471]], labelX: 238, keyX: [543, 579], keyH: 25, keys: [1522.5, 1568.5]},
  [{stats: d1A549Box, points: d1A549Points}, {stats: d1BeasBox, points: d1BeasPoints}]);
drawBoxPanel('panelD2', {left: 864, right: 1143, top: 1267, bottom: 1734, y1: 1288, y0: 1711.5, cx: 1003, boxes: [[920, 1000], [1007, 1086]], labelX: 850, keyX: [1161, 1198], keyH: 25, keys: [1524, 1570]},
  [{stats: d2A549Box, points: d2A549Points}, {stats: d2BeasBox, points: d2BeasPoints}]);
drawBoxPanel('panelD3', {left: 1468, right: 1746.5, top: 1267, bottom: 1732, y1: 1287.5, y0: 1711, cx: 1607, boxes: [[1524, 1603], [1611, 1690]], labelX: 1458, keyX: [1763, 1798], keyH: 25, keys: [1524.5, 1571]},
  [{stats: d3A549Box, points: d3A549Points}, {stats: d3BeasBox, points: d3BeasPoints}]);
drawBoxPanel('panelD4', {left: 246.6, right: 524.6, top: 1939.6, bottom: 2401, y1: 1957.7, y0: 2381, cx: 384, boxes: [[301.5, 381], [388, 468]], labelX: 236, keyX: [542, 579], keyH: 25, keys: [2176, 2223]},
  [{stats: d4H1299Box, points: d4H1299Points}, {stats: d4BeasBox, points: d4BeasPoints}]);
drawBoxPanel('panelD5', {left: 863, right: 1141, top: 1939.6, bottom: 2400, y1: 1957.7, y0: 2380, cx: 1002, boxes: [[919, 998], [1006, 1085]], labelX: 850, keyX: [1164, 1200], keyH: 25, keys: [2179, 2226]},
  [{stats: d5H1299Box, points: d5H1299Points}, {stats: d5BeasBox, points: d5BeasPoints}]);
drawBoxPanel('panelD6', {left: 1468, right: 1744, top: 1939.6, bottom: 2401, y1: 1958, y0: 2380, cx: 1606, boxes: [[1522, 1602], [1610, 1689]], labelX: 1456.5, keyX: [1761, 1798], keyH: 25, keys: [2176, 2223]},
  [{stats: d6H1299Box, points: d6H1299Points}, {stats: d6BeasBox, points: d6BeasPoints}]);
</script>
</body>
</html>
